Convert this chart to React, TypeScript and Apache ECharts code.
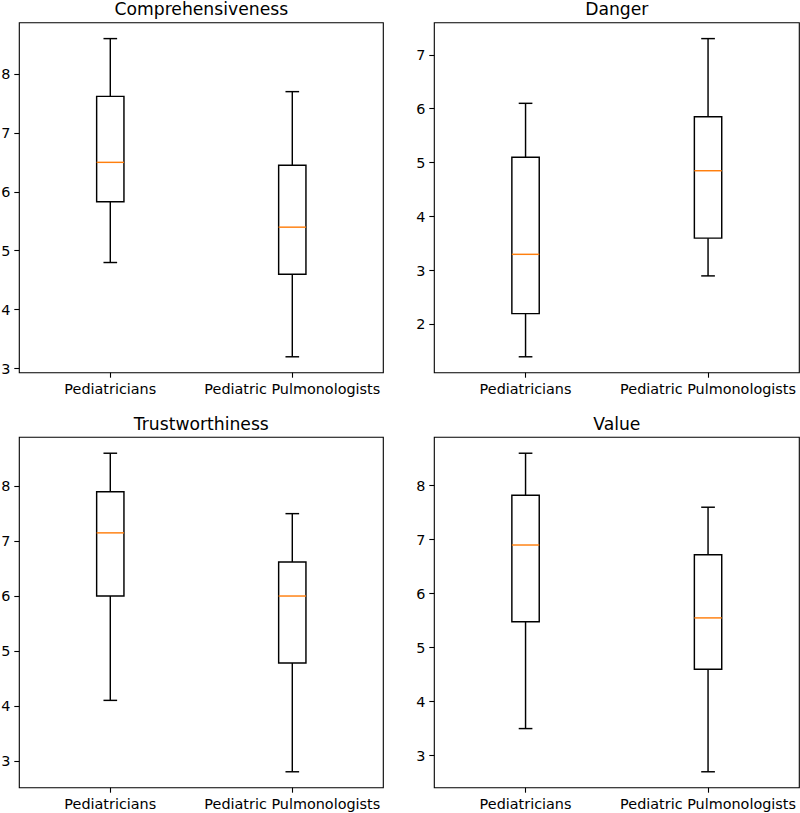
import React, { useEffect, useRef } from "react";
import * as echarts from "echarts";

// Groups compared in every panel
const categories = ["Pediatricians", "Pediatric Pulmonologists"];

// Five-number summaries per group: [lower whisker, Q1, median, Q3, upper whisker]
const comprehensiveness = [
  [4.8, 5.83, 6.5, 7.62, 8.6],
  [3.2, 4.6, 5.4, 6.45, 7.7],
];
const danger = [
  [1.4, 2.2, 3.3, 5.1, 6.1],
  [2.9, 3.6, 4.85, 5.85, 7.3],
];
const trustworthiness = [
  [4.1, 6.0, 7.15, 7.9, 8.6],
  [2.8, 4.78, 6.0, 6.62, 7.5],
];
const valueScores = [
  [3.5, 5.48, 6.9, 7.82, 8.6],
  [2.7, 4.6, 5.55, 6.72, 7.6],
];

// Y tick labels per panel
const comprehensivenessTicks = [3, 4, 5, 6, 7, 8];
const dangerTicks = [2, 3, 4, 5, 6, 7];
const trustworthinessTicks = [3, 4, 5, 6, 7, 8];
const valueTicks = [3, 4, 5, 6, 7, 8];

const panels = [
  { title: "Comprehensiveness", stats: comprehensiveness, ticks: comprehensivenessTicks },
  { title: "Danger", stats: danger, ticks: dangerTicks },
  { title: "Trustworthiness", stats: trustworthiness, ticks: trustworthinessTicks },
  { title: "Value", stats: valueScores, ticks: valueTicks },
];

// Plot-area rectangles (px) for the 2x2 layout
const gridRects = [
  { left: 19.3, top: 22.7, width: 364, height: 350 },
  { left: 434.3, top: 22.7, width: 365, height: 350 },
  { left: 19.3, top: 437.3, width: 364, height: 350.4 },
  { left: 434.3, top: 437.3, width: 365, height: 350.4 },
];

const FONT = "DejaVu Sans";
const BOX_WIDTH = 0.15; // in x-data units
const LINE_W = 1.45;
const MEDIAN_COLOR = "#ff7f0e";

const renderBox = (_params: any, api: any) => {
  const x = api.value(0);
  const lo = api.value(1);
  const q1 = api.value(2);
  const med = api.value(3);
  const q3 = api.value(4);
  const hi = api.value(5);
  const boxW = api.size([BOX_WIDTH, 0])[0];
  const capHalf = boxW / 4;
  const [cx, yLo] = api.coord([x, lo]);
  const yQ1 = api.coord([x, q1])[1];
  const yMed = api.coord([x, med])[1];
  const yQ3 = api.coord([x, q3])[1];
  const yHi = api.coord([x, hi])[1];
  const stroke = { stroke: "#000", lineWidth: LINE_W, fill: null };
  return {
    type: "group",
    children: [
      { type: "line", shape: { x1: cx, y1: yLo, x2: cx, y2: yQ1 }, style: stroke },
      { type: "line", shape: { x1: cx, y1: yQ3, x2: cx, y2: yHi }, style: stroke },
      { type: "line", shape: { x1: cx - capHalf, y1: yLo, x2: cx + capHalf, y2: yLo }, style: stroke },
      { type: "line", shape: { x1: cx - capHalf, y1: yHi, x2: cx + capHalf, y2: yHi }, style: stroke },
      {
        type: "rect",
        shape: { x: cx - boxW / 2, y: yQ3, width: boxW, height: yQ1 - yQ3 },
        style: { fill: "none", stroke: "#000", lineWidth: LINE_W },
      },
      {
        type: "line",
        shape: { x1: cx - boxW / 2, y1: yMed, x2: cx + boxW / 2, y2: yMed },
        style: { stroke: MEDIAN_COLOR, lineWidth: LINE_W },
      },
    ],
  };
};

export default function App() {
  const ref = useRef<HTMLDivElement>(null);

  useEffect(() => {
    if (!ref.current) return;
    const chart = echarts.init(ref.current, null, { renderer: "svg" });

    const grid = gridRects.map((r) => ({
      ...r,
      show: true,
      borderColor: "#000",
      borderWidth: 1.1,
      backgroundColor: "transparent",
      containLabel: false,
      outerBoundsMode: "none",
    }));

    const xAxis = panels.map((_p, i) => ({
      type: "value",
      gridIndex: i,
      min: 0.5,
      max: categories.length + 0.5,
      splitLine: { show: false },
      axisLine: { show: false },
      axisTick: {
        show: true,
        customValues: categories.map((_c, k) => k + 1),
        length: 5,
        lineStyle: { color: "#000", width: 1.1 },
      },
      axisLabel: {
        customValues: categories.map((_c, k) => k + 1),
        formatter: (v: number) => categories[Math.round(v) - 1] ?? "",
        color: "#000",
        fontFamily: FONT,
        fontSize: 14.4,
        margin: 9,
      },
    }));

    const yAxis = panels.map((p, i) => {
      const lo = Math.min(...p.stats.map((s) => s[0]));
      const hi = Math.max(...p.stats.map((s) => s[4]));
      const pad = (hi - lo) * 0.05;
      return {
        type: "value",
        gridIndex: i,
        min: lo - pad,
        max: hi + pad,
        splitLine: { show: false },
        axisLine: { show: false },
        axisTick: {
          show: true,
          customValues: p.ticks,
          length: 5,
          lineStyle: { color: "#000", width: 1.1 },
        },
        axisLabel: {
          customValues: p.ticks,
          color: "#000",
          fontFamily: FONT,
          fontSize: 14.4,
          margin: 9,
        },
      };
    });

    const series = panels.map((p, i) => ({
      type: "custom",
      xAxisIndex: i,
      yAxisIndex: i,
      renderItem: renderBox,
      encode: { x: 0, y: [1, 2, 3, 4, 5] },
      data: p.stats.map((s, k) => [k + 1, ...s]),
    }));

    const graphic = panels.map((p, i) => {
      const r = gridRects[i];
      return {
        type: "text",
        x: r.left + r.width / 2,
        y: r.top - 13.3,
        style: {
          text: p.title,
          align: "center",
          verticalAlign: "middle",
          fontFamily: FONT,
          fontSize: 17.2,
          fill: "#000",
        },
      };
    });

    chart.setOption({
      animation: false,
      backgroundColor: "#fff",
      grid,
      xAxis,
      yAxis,
      series,
      graphic,
    });

    return () => chart.dispose();
  }, []);

  return (
    <div
      ref={ref}
      style={{ position: "absolute", left: 0, top: 0, width: 800, height: 813 }}
    />
  );
}
